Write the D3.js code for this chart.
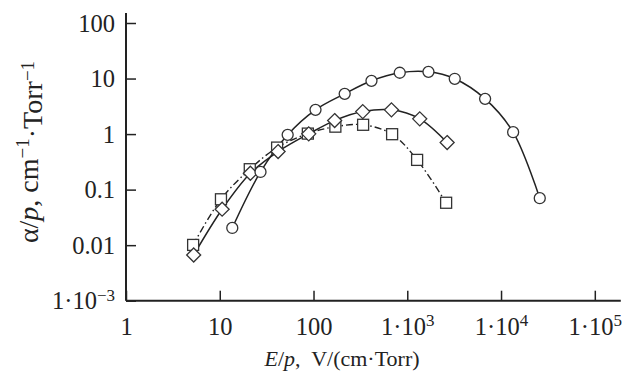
<!DOCTYPE html>
<html>
<head>
<meta charset="utf-8">
<script src="https://cdn.jsdelivr.net/npm/d3@7"></script>
<style>
  body { margin: 0; background: #fff; }
  svg { font-family: "Liberation Serif", "DejaVu Serif", serif; }
</style>
</head>
<body>
<div id="chart"></div>
<script>
// circles - solid line
const circleX = [13.6, 27.2, 53, 105, 215, 415, 831, 1682, 3208, 6761, 13460, 25880];
const circleY = [0.0204, 0.208, 0.97, 2.73, 5.3, 9.1, 12.7, 13.2, 9.9, 4.31, 1.08, 0.070];
// diamonds - solid line
const diamondX = [5.27, 10.6, 21.2, 41.9, 88.9, 168, 335, 678, 1358, 2662];
const diamondY = [0.00665, 0.0444, 0.197, 0.484, 1.01, 1.75, 2.54, 2.73, 1.88, 0.703];
// squares - dash-dot line
const squareX = [5.2, 10.3, 20.9, 40.9, 87, 171, 338, 689, 1273, 2596];
const squareY = [0.0101, 0.067, 0.233, 0.571, 1.02, 1.36, 1.47, 0.995, 0.343, 0.058];

const xTicks = [1, 10, 100, 1e3, 1e4, 1e5];
const yTicks = [1e-3, 0.01, 0.1, 1, 10, 100];
const xTickLabels = [["1"], ["10"], ["100"], ["1·10", "3"], ["1·10", "4"], ["1·10", "5"]];
const yTickLabels = [["1·10", "−3"], ["0.01"], ["0.1"], ["1"], ["10"], ["100"]];

const width = 628, height = 374;
const margin = {top: 23, left: 126};
const innerW = 468.8, innerH = 277.7;

const svg = d3.select('#chart').append('svg')
    .attr('width', width)
    .attr('height', height);
const g = svg.append('g').attr('transform', `translate(${margin.left},${margin.top})`);

const x = d3.scaleLog().domain([1, 1e5]).range([0, innerW]);
const y = d3.scaleLog().domain([1e-3, 100]).range([innerH, 0]);

function labelTspans(sel, parts) {
    sel.text(null);
    sel.append('tspan').text(parts[0]);
    if (parts[1]) {
        sel.append('tspan').attr('dy', '-0.5em').style('font-size', '17px').text(parts[1]);
    }
}

// x axis
const xAxis = d3.axisBottom(x).tickValues(xTicks).tickSizeInner(-10).tickSizeOuter(0).tickPadding(16);
const xg = g.append('g').attr('transform', `translate(0,${innerH})`).call(xAxis)
    .attr('font-family', null).attr('font-size', null);
xg.select('.domain').remove();
xg.selectAll('.tick line').attr('stroke', '#222').attr('stroke-width', 1.5);
xg.selectAll('.tick text').each(function(d, i) { labelTspans(d3.select(this), xTickLabels[i]); })
    .style('font-size', '24.5px').attr('fill', '#222')
    .attr('y', 34).attr('dy', null);

// y axis
const yAxis = d3.axisLeft(y).tickValues(yTicks).tickSizeInner(-10).tickSizeOuter(0).tickPadding(12);
const yg = g.append('g').call(yAxis)
    .attr('font-family', null).attr('font-size', null);
yg.select('.domain').remove();
yg.selectAll('.tick line').attr('stroke', '#222').attr('stroke-width', 1.5);
yg.selectAll('.tick text').each(function(d, i) { labelTspans(d3.select(this), yTickLabels[i]); })
    .style('font-size', '24.5px').attr('fill', '#222')
    .attr('x', -11).attr('dy', null).attr('y', 8);

// axis lines
g.append('line').attr('x1', 0).attr('x2', 0).attr('y1', y(1e-3)).attr('y2', y(100) - 10)
    .attr('stroke', '#222').attr('stroke-width', 2);
g.append('line').attr('x1', 0).attr('x2', x(1e5) + 26).attr('y1', y(1e-3)).attr('y2', y(1e-3))
    .attr('stroke', '#222').attr('stroke-width', 2);

// axis titles
const xt = svg.append('text')
    .attr('x', 342).attr('y', 366)
    .attr('text-anchor', 'middle')
    .style('font-size', '22px').attr('fill', '#222');
xt.append('tspan').style('font-style', 'italic').text('E');
xt.append('tspan').text('/');
xt.append('tspan').style('font-style', 'italic').text('p');
xt.append('tspan').text(',\u00a0 V/(cm·Torr)');

const yt = svg.append('text')
    .attr('transform', 'translate(38,152) rotate(-90)')
    .attr('text-anchor', 'middle')
    .style('font-size', '28px').attr('fill', '#222');
yt.append('tspan').text('α/');
yt.append('tspan').style('font-style', 'italic').text('p');
yt.append('tspan').text(', cm');
yt.append('tspan').attr('dy', '-0.45em').style('font-size', '19px').text('−1');
yt.append('tspan').attr('dy', '0.45em').text('·Torr');
yt.append('tspan').attr('dy', '-0.45em').style('font-size', '19px').text('−1');

// lines
const line = d3.line()
    .x(d => x(d[0]))
    .y(d => y(d[1]))
    .curve(d3.curveCatmullRom.alpha(0.5));

const circles = circleX.map((v, i) => [v, circleY[i]]);
const diamonds = diamondX.map((v, i) => [v, diamondY[i]]);
const squares = squareX.map((v, i) => [v, squareY[i]]);

g.append('path').datum(squares).attr('d', line)
    .attr('fill', 'none').attr('stroke', '#222').attr('stroke-width', 1.4)
    .attr('stroke-dasharray', '7,3,1.5,3');
g.append('path').datum(diamonds).attr('d', line)
    .attr('fill', 'none').attr('stroke', '#222').attr('stroke-width', 1.5);
g.append('path').datum(circles).attr('d', line)
    .attr('fill', 'none').attr('stroke', '#222').attr('stroke-width', 1.5);

// markers
g.selectAll('.sq').data(squares).join('rect')
    .attr('x', d => x(d[0]) - 5.5).attr('y', d => y(d[1]) - 5.5)
    .attr('width', 11).attr('height', 11)
    .attr('fill', '#fff').attr('stroke', '#333').attr('stroke-width', 1.3);
g.selectAll('.dm').data(diamonds).join('path')
    .attr('transform', d => `translate(${x(d[0])},${y(d[1])})`)
    .attr('d', 'M0,-7L7,0L0,7L-7,0Z')
    .attr('fill', '#fff').attr('stroke', '#333').attr('stroke-width', 1.3);
g.selectAll('.ci').data(circles).join('circle')
    .attr('cx', d => x(d[0])).attr('cy', d => y(d[1])).attr('r', 5.5)
    .attr('fill', '#fff').attr('stroke', '#333').attr('stroke-width', 1.3);
</script>
</body>
</html>
